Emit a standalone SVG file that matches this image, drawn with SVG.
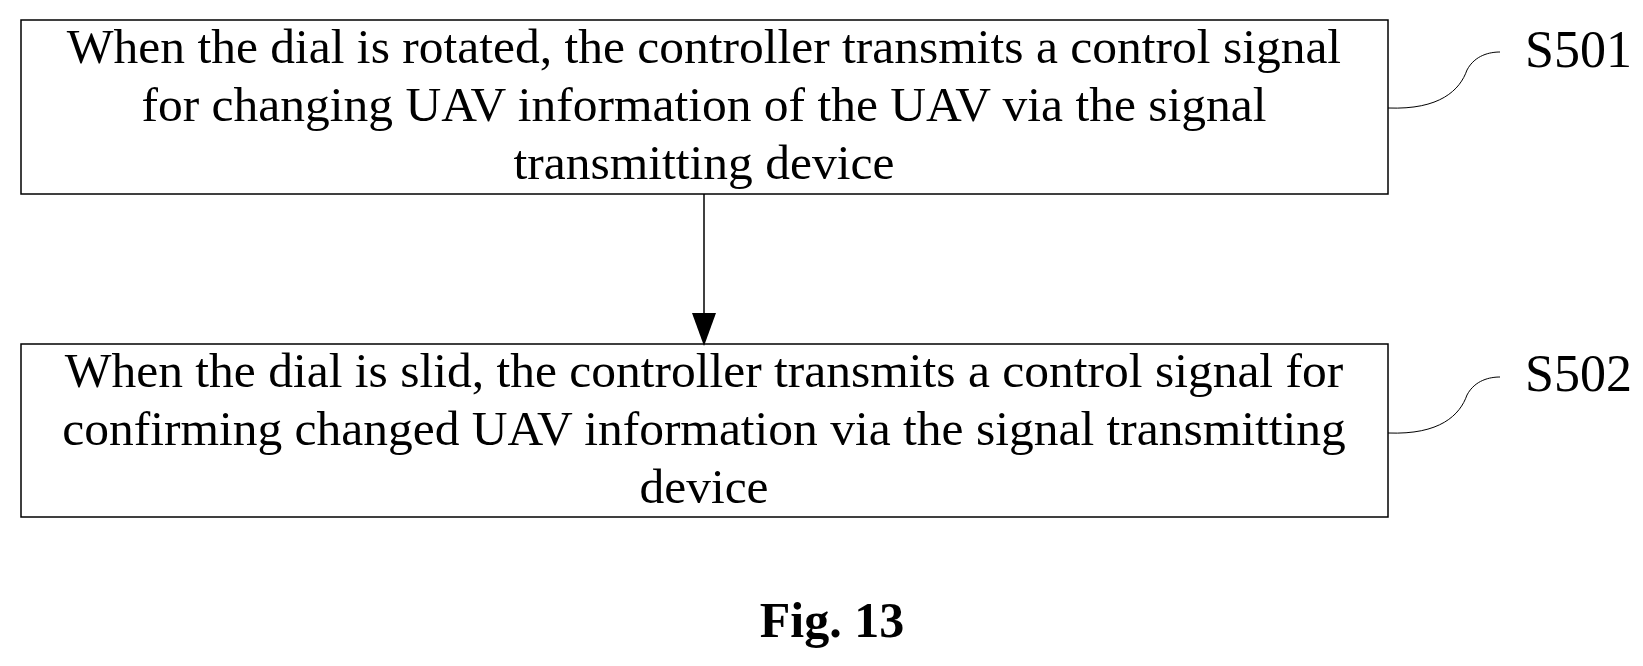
<svg xmlns="http://www.w3.org/2000/svg" width="1643" height="666" viewBox="0 0 1643 666">
<style>
.b{fill:#fff;stroke:#000;stroke-width:1.5}
.t{font-family:"Liberation Serif",serif;font-size:49.5px;text-anchor:middle;fill:#000}
.l{font-family:"Liberation Serif",serif;font-size:52px;fill:#000}
.c{fill:none;stroke:#000;stroke-width:1}
</style>
<rect width="1643" height="666" fill="#fff"/>
<g id="s501">
<rect class="b" x="21" y="20" width="1367" height="174"/>
<text class="t" x="704" y="63">When the dial is rotated, the controller transmits a control signal</text>
<text class="t" x="704" y="121">for changing UAV information of the UAV via the signal</text>
<text class="t" x="704" y="179">transmitting device</text>
<text class="l" x="1525" y="67">S501</text>
</g>
<g id="s502">
<rect class="b" x="21" y="344" width="1367" height="173"/>
<text class="t" x="704" y="387">When the dial is slid, the controller transmits a control signal for</text>
<text class="t" x="704" y="445">confirming changed UAV information via the signal transmitting</text>
<text class="t" x="704" y="503">device</text>
<text class="l" x="1525" y="391">S502</text>
</g>
<g id="connectors">
<line x1="704" y1="194" x2="704" y2="313" stroke="#000" stroke-width="1.5"/>
<path d="M692,313 L716,313 L704,346 Z" fill="#000"/>
<path class="c" d="M1388,108 C1440,110 1460,90 1467,70 C1475,55 1490,52 1500,52"/>
<path class="c" d="M1388,433 C1440,435 1460,415 1467,395 C1475,380 1490,377 1500,377"/>
</g>
<text x="832" y="637" style="font-family:'Liberation Serif',serif;font-size:50px;font-weight:bold;text-anchor:middle">Fig. 13</text>
</svg>
